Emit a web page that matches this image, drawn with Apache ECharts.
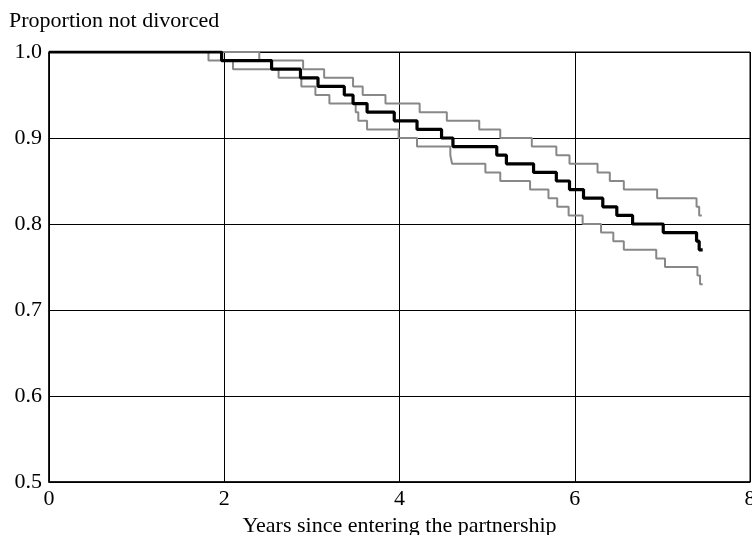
<!DOCTYPE html>
<html>
<head>
<meta charset="utf-8">
<script src="https://cdn.jsdelivr.net/npm/echarts@6/dist/echarts.min.js"></script>
<style>
  html, body { margin: 0; padding: 0; background: #fff; }
  #chart { width: 752px; height: 535px; }
</style>
</head>
<body>
<div id="chart"></div>
<script>
// Kaplan-Meier estimate: step times (years) and proportion not divorced
const mainTimes = [0, 1.97, 2.54, 2.87, 3.07, 3.37, 3.47, 3.63, 3.94, 4.20, 4.48, 4.61, 5.11, 5.22, 5.53, 5.79, 5.94, 6.10, 6.32, 6.48, 6.66, 7.01, 7.39, 7.42, 7.46];
const mainSurv  = [1.00, 0.99, 0.98, 0.97, 0.96, 0.95, 0.94, 0.93, 0.92, 0.91, 0.90, 0.89, 0.88, 0.87, 0.86, 0.85, 0.84, 0.83, 0.82, 0.81, 0.80, 0.79, 0.78, 0.77, 0.77];

// Upper confidence bound
const upperTimes = [0, 2.40, 2.90, 3.14, 3.47, 3.58, 3.84, 4.23, 4.54, 4.91, 5.15, 5.51, 5.79, 5.94, 6.26, 6.40, 6.56, 6.94, 7.39, 7.42, 7.45];
const upperSurv  = [1.00, 0.99, 0.98, 0.97, 0.96, 0.95, 0.94, 0.93, 0.92, 0.91, 0.90, 0.89, 0.88, 0.87, 0.86, 0.85, 0.84, 0.83, 0.82, 0.81, 0.81];

// Lower confidence bound
const lowerTimes = [0, 1.82, 2.10, 2.62, 2.88, 3.04, 3.20, 3.50, 3.53, 3.63, 3.99, 4.20, 4.58, 4.60, 4.98, 5.15, 5.49, 5.70, 5.80, 5.93, 6.09, 6.30, 6.44, 6.56, 6.93, 7.03, 7.40, 7.43, 7.46];
const lowerSurv  = [1.00, 0.99, 0.98, 0.97, 0.96, 0.95, 0.94, 0.93, 0.92, 0.91, 0.90, 0.89, 0.88, 0.87, 0.86, 0.85, 0.84, 0.83, 0.82, 0.81, 0.80, 0.79, 0.78, 0.77, 0.76, 0.75, 0.74, 0.73, 0.73];

const xTicks = [0, 2, 4, 6, 8];
const yTicks = [0.5, 0.6, 0.7, 0.8, 0.9, 1.0];

const yTitle = 'Proportion not divorced';
const xTitle = 'Years since entering the partnership';

function pairs(t, s) { return t.map((v, i) => [v, s[i]]); }

const FONT = '"Liberation Serif", "DejaVu Serif", serif';
const chart = echarts.init(document.getElementById('chart'), null, { renderer: 'canvas' });

chart.setOption({
  animation: false,
  backgroundColor: '#fff',
  title: {
    text: yTitle,
    left: 4, top: 5,
    textStyle: { fontFamily: FONT, fontSize: 22, fontWeight: 'normal', color: '#000' }
  },
  grid: { left: 49, right: 2, top: 52, bottom: 53, containLabel: false, outerBoundsMode: 'none',
          show: true, borderColor: '#000', borderWidth: 1 },
  xAxis: {
    type: 'value', min: xTicks[0], max: xTicks[xTicks.length - 1], interval: 2,
    name: xTitle, nameLocation: 'middle', nameGap: 33,
    nameTextStyle: { fontFamily: FONT, fontSize: 22, color: '#000' },
    axisLine: { show: true, onZero: false, lineStyle: { color: '#000', width: 1.5 } },
    axisTick: { show: false },
    axisLabel: { fontFamily: FONT, fontSize: 22, color: '#000', margin: 6, showMaxLabel: true, hideOverlap: false },
    splitLine: { show: true, lineStyle: { color: '#000', width: 1 } }
  },
  yAxis: {
    type: 'value', min: yTicks[0], max: yTicks[yTicks.length - 1], interval: 0.1,
    axisLine: { show: true, lineStyle: { color: '#000', width: 1.5 } },
    axisTick: { show: false },
    axisLabel: { fontFamily: FONT, fontSize: 22, color: '#000', margin: 7, formatter: v => v.toFixed(1) },
    splitLine: { show: true, lineStyle: { color: '#000', width: 1 } }
  },
  series: [
    { type: 'line', step: 'end', data: pairs(upperTimes, upperSurv), showSymbol: false, lineStyle: { color: '#888', width: 2 }, z: 2 },
    { type: 'line', step: 'end', data: pairs(lowerTimes, lowerSurv), showSymbol: false, lineStyle: { color: '#888', width: 2 }, z: 2 },
    { type: 'line', step: 'end', data: pairs(mainTimes, mainSurv), showSymbol: false, lineStyle: { color: '#000', width: 3.2 }, z: 3 }
  ]
});
</script>
</body>
</html>
